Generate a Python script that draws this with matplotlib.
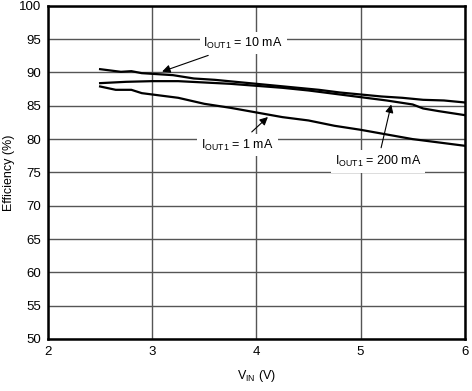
import matplotlib.pyplot as plt
import numpy as np

plt.rcParams['font.family'] = ['Liberation Sans', 'DejaVu Sans']
plt.rcParams['mathtext.default'] = 'regular'

# Data
v_10 = [2.5, 2.6, 2.7, 2.8, 2.9, 3.0, 3.2, 3.4, 3.6, 3.8, 4.0, 4.2, 4.4, 4.6, 4.8, 5.0, 5.2, 5.4, 5.6, 5.8, 6.0]
eff_10 = [90.5, 90.3, 90.1, 90.2, 89.9, 89.8, 89.6, 89.1, 88.9, 88.6, 88.3, 88.0, 87.7, 87.4, 87.0, 86.7, 86.4, 86.2, 85.9, 85.8, 85.5]

v_200 = [2.5, 2.75, 3.0, 3.25, 3.5, 3.75, 4.0, 4.25, 4.5, 4.75, 5.0, 5.25, 5.5, 5.6, 5.75, 6.0]
eff_200 = [88.4, 88.6, 88.7, 88.7, 88.5, 88.3, 88.0, 87.7, 87.3, 86.8, 86.3, 85.8, 85.2, 84.6, 84.2, 83.6]

v_1 = [2.5, 2.65, 2.8, 2.9, 3.0, 3.25, 3.5, 3.75, 4.0, 4.25, 4.5, 4.75, 5.0, 5.25, 5.5, 5.75, 6.0]
eff_1 = [87.9, 87.4, 87.4, 86.9, 86.7, 86.2, 85.3, 84.7, 84.0, 83.3, 82.8, 82.0, 81.4, 80.7, 80.0, 79.5, 79.0]

fig = plt.figure(figsize=(4.72, 3.91), dpi=100)
ax = fig.add_axes([0.1017, 0.133, 0.883, 0.852])

ax.plot(v_10, eff_10, color='black', linewidth=1.6)
ax.plot(v_200, eff_200, color='black', linewidth=1.6)
ax.plot(v_1, eff_1, color='black', linewidth=1.6)

ax.set_xlim(2, 6)
ax.set_ylim(50, 100)
ax.set_xticks(np.arange(2, 7, 1))
ax.set_yticks(np.arange(50, 101, 5))
ax.grid(True, color='#555555', linewidth=1)
ax.set_axisbelow(True)
ax.tick_params(length=0, labelsize=9.5, pad=5)
for s in ax.spines.values():
    s.set_linewidth(1.8)

ax.set_xlabel(r'V$_{\mathregular{IN}}$ (V)', fontsize=9)
ax.set_ylabel('Efficiency (%)', fontsize=9)
ax.xaxis.set_label_coords(0.5, -0.088)
ax.yaxis.set_label_coords(-0.08, 0.5)

box = dict(boxstyle='square,pad=0.3', fc='white', ec='none')
arrow = dict(arrowstyle='-|>', color='black', lw=0.8, mutation_scale=12)
ax.annotate(r'I$_{\mathregular{OUT1}}$ = 10 mA', xy=(3.07, 90.0), xytext=(3.49, 94.4),
            fontsize=9, va='center', ha='left', bbox=box, arrowprops=arrow)
ax.annotate(r'I$_{\mathregular{OUT1}}$ = 1 mA', xy=(4.13, 83.6), xytext=(3.47, 79.1),
            fontsize=9, va='center', ha='left', bbox=box, arrowprops=arrow)
ax.annotate(r'I$_{\mathregular{OUT1}}$ = 200 mA', xy=(5.30, 85.6), xytext=(4.75, 76.6),
            fontsize=9, va='center', ha='left', bbox=box, arrowprops=arrow)

plt.savefig('out.png', dpi=100)
